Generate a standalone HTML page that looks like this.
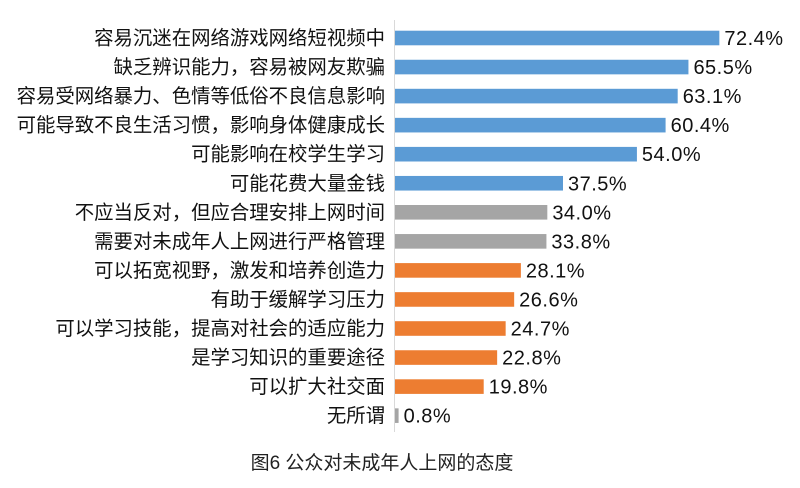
<!DOCTYPE html>
<html><head><meta charset="utf-8"><style>
body{margin:0;width:800px;height:483px;background:#fff;overflow:hidden;font-family:"Liberation Sans","Noto Sans CJK SC",sans-serif;}
</style></head><body>
<svg width="800" height="483" xmlns="http://www.w3.org/2000/svg" font-family="Liberation Sans, Noto Sans CJK SC, sans-serif">
<line x1="394.5" y1="20" x2="394.5" y2="432" stroke="#d9d9d9" stroke-width="1"/>
<g id="bars"></g>
<text x="382" y="469" text-anchor="middle" font-size="19" fill="#222">图6 公众对未成年人上网的态度</text>
</svg>
<script>
var d=[["容易沉迷在网络游戏网络短视频中",72.4,"#5b9bd5"],["缺乏辨识能力，容易被网友欺骗",65.5,"#5b9bd5"],["容易受网络暴力、色情等低俗不良信息影响",63.1,"#5b9bd5"],["可能导致不良生活习惯，影响身体健康成长",60.4,"#5b9bd5"],["可能影响在校学生学习",54.0,"#5b9bd5"],["可能花费大量金钱",37.5,"#5b9bd5"],["不应当反对，但应合理安排上网时间",34.0,"#a5a5a5"],["需要对未成年人上网进行严格管理",33.8,"#a5a5a5"],["可以拓宽视野，激发和培养创造力",28.1,"#ed7d31"],["有助于缓解学习压力",26.6,"#ed7d31"],["可以学习技能，提高对社会的适应能力",24.7,"#ed7d31"],["是学习知识的重要途径",22.8,"#ed7d31"],["可以扩大社交面",19.8,"#ed7d31"],["无所谓",0.8,"#a5a5a5"]];
var s="";
d.forEach(function(r,i){var cy=38+i*29.05;var w=r[1]*4.48;
s+='<rect x="395" y="'+(cy-7.3)+'" width="'+w+'" height="14.6" fill="'+r[2]+'"/>';
s+='<text x="385" y="'+(cy+6.5)+'" text-anchor="end" font-size="19.4" fill="#111">'+r[0]+'</text>';
s+='<text x="'+(400+w)+'" y="'+(cy+7)+'" font-size="20" letter-spacing="0.5" fill="#111">'+r[1].toFixed(1)+'%</text>';});
document.getElementById("bars").innerHTML=s;
</script>
</body></html>
